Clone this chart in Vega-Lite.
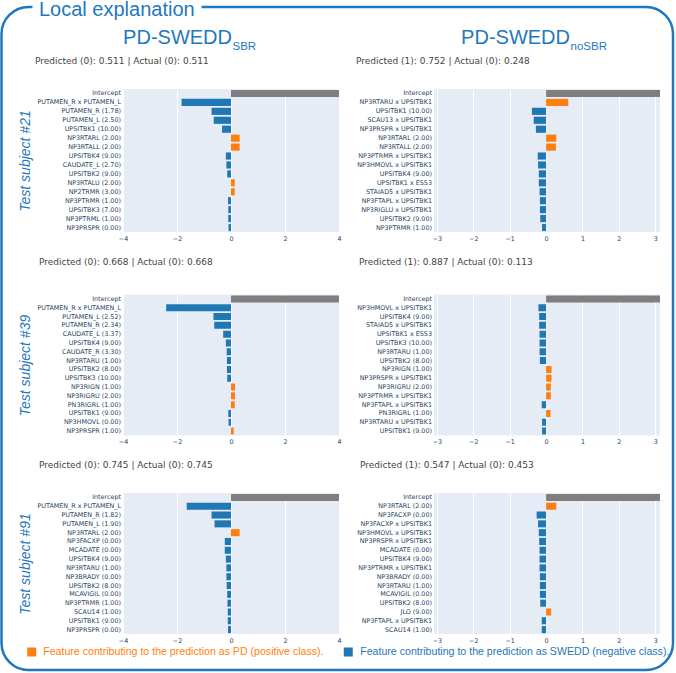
{
  "$schema": "https://vega.github.io/schema/vega-lite/v6.json",
  "padding": 0,
  "background": "white",
  "bounds": "flush",
  "spacing": 0,
  "config": {
    "view": {"stroke": null},
    "font": "DejaVu Sans",
    "axisX": {"labelFont": "DejaVu Sans", "labelFontSize": 6.4, "labelColor": "#2a3f5f", "ticks": false, "domain": false, "grid": true, "gridColor": "white", "gridWidth": 1, "gridOpacity": 1, "labelPadding": 3, "labelFlush": false},
    "axisY": {"labelFont": "DejaVu Sans", "labelFontSize": 6.4, "labelColor": "#2a3f5f", "ticks": false, "domain": false, "grid": false, "labelPadding": 2.5},
    "title": {"font": "DejaVu Sans", "fontSize": 9, "fontWeight": "normal", "color": "#444444", "anchor": "start", "frame": "group", "baseline": "alphabetic"}
  },
  "vconcat": [
    {
      "width": 549.5,
      "height": 82,
      "layer": [
        {"data": {"values": [{"frame": "Local explanation"}]}, "mark": {"type": "rect", "xOffset": -121.5, "x2Offset": 0.5, "yOffset": 0, "y2Offset": 581, "cornerRadius": 27, "filled": false, "color": "#1f78be", "strokeWidth": 2.5, "strokeDash": [4, 169, 3000], "clip": false}, "encoding": {"x": {"value": 0}, "x2": {"value": "width"}, "y": {"value": 0}, "y2": {"value": "height"}}},
        {"data": {"values": [{"t": "Local explanation"}]}, "mark": {"type": "text", "align": "left", "baseline": "alphabetic", "dx": -358.75, "dy": -32, "fontSize": 20, "font": "Liberation Sans", "color": "#1f78be"}, "encoding": {"text": {"field": "t"}}},
        {"data": {"values": [{"t": "PD-SWEDD"}]}, "mark": {"type": "text", "align": "right", "baseline": "alphabetic", "dx": -165.75, "dy": -4, "fontSize": 20, "font": "Liberation Sans", "color": "#1f78be"}, "encoding": {"text": {"field": "t"}}},
        {"data": {"values": [{"t": "SBR"}]}, "mark": {"type": "text", "align": "left", "baseline": "alphabetic", "dx": -165.25, "dy": 1.5, "fontSize": 11.5, "font": "Liberation Sans", "color": "#1f78be"}, "encoding": {"text": {"field": "t"}}},
        {"data": {"values": [{"t": "PD-SWEDD"}]}, "mark": {"type": "text", "align": "right", "baseline": "alphabetic", "dx": 172.25, "dy": -4, "fontSize": 20, "font": "Liberation Sans", "color": "#1f78be"}, "encoding": {"text": {"field": "t"}}},
        {"data": {"values": [{"t": "noSBR"}]}, "mark": {"type": "text", "align": "left", "baseline": "alphabetic", "dx": 172.75, "dy": 1.5, "fontSize": 11.5, "font": "Liberation Sans", "color": "#1f78be"}, "encoding": {"text": {"field": "t"}}},
        {"data": {"values": [{"sign": "PD", "label": "Feature contributing to the prediction as PD (positive class)."}]}, "mark": {"type": "square", "size": 81, "opacity": 1, "filled": true, "xOffset": -366, "yOffset": 604, "clip": false}, "encoding": {"color": {"field": "sign", "type": "nominal", "scale": {"domain": ["Intercept", "PD", "SWEDD"], "range": ["#7f7f7f", "#ff7f0e", "#1f77b4"]}, "legend": null}}},
        {"data": {"values": [{"sign": "PD", "label": "Feature contributing to the prediction as PD (positive class)."}]}, "mark": {"type": "text", "align": "left", "baseline": "middle", "dx": -354.5, "dy": 604, "fontSize": 10.6, "font": "Liberation Sans", "clip": false}, "encoding": {"text": {"field": "label"}, "color": {"field": "sign", "type": "nominal", "scale": {"domain": ["Intercept", "PD", "SWEDD"], "range": ["#7f7f7f", "#ff7f0e", "#1f77b4"]}, "legend": null}}},
        {"data": {"values": [{"sign": "SWEDD", "label": "Feature contributing to the prediction as SWEDD (negative class)."}]}, "mark": {"type": "square", "size": 81, "opacity": 1, "filled": true, "xOffset": -49.5, "yOffset": 604, "clip": false}, "encoding": {"color": {"field": "sign", "type": "nominal", "scale": {"domain": ["Intercept", "PD", "SWEDD"], "range": ["#7f7f7f", "#ff7f0e", "#1f77b4"]}, "legend": null}}},
        {"data": {"values": [{"sign": "SWEDD", "label": "Feature contributing to the prediction as SWEDD (negative class)."}]}, "mark": {"type": "text", "align": "left", "baseline": "middle", "dx": -37.5, "dy": 604, "fontSize": 10.6, "font": "Liberation Sans", "clip": false}, "encoding": {"text": {"field": "label"}, "color": {"field": "sign", "type": "nominal", "scale": {"domain": ["Intercept", "PD", "SWEDD"], "range": ["#7f7f7f", "#ff7f0e", "#1f77b4"]}, "legend": null}}}
      ]
    },
    {
      "columns": 2,
      "align": "each",
      "bounds": "full",
      "spacing": {"row": 15.5, "column": 14},
      "concat": [
        {
          "width": 216, "height": 143,
          "title": {"text": "Predicted (0): 0.511 | Actual (0): 0.511", "offset": 23.5, "dx": -88},
          "view": {"fill": "#e5ecf6", "stroke": null},
          "data": {"values": [
            {"feature": "Intercept", "value": 4.6, "sign": "Intercept"},
            {"feature": "PUTAMEN_R x PUTAMEN_L", "value": -1.83, "sign": "SWEDD"},
            {"feature": "PUTAMEN_R (1.78)", "value": -0.72, "sign": "SWEDD"},
            {"feature": "PUTAMEN_L (2.50)", "value": -0.64, "sign": "SWEDD"},
            {"feature": "UPSITBK1 (10.00)", "value": -0.33, "sign": "SWEDD"},
            {"feature": "NP3RTARL (2.00)", "value": 0.32, "sign": "PD"},
            {"feature": "NP3RTALL (2.00)", "value": 0.32, "sign": "PD"},
            {"feature": "UPSITBK4 (9.00)", "value": -0.19, "sign": "SWEDD"},
            {"feature": "CAUDATE_L (2.70)", "value": -0.17, "sign": "SWEDD"},
            {"feature": "UPSITBK2 (9.00)", "value": -0.14, "sign": "SWEDD"},
            {"feature": "NP3RTALU (2.00)", "value": 0.14, "sign": "PD"},
            {"feature": "NP2TRMR (3.00)", "value": 0.14, "sign": "PD"},
            {"feature": "NP3PTRMR (1.00)", "value": -0.11, "sign": "SWEDD"},
            {"feature": "UPSITBK3 (7.00)", "value": -0.10, "sign": "SWEDD"},
            {"feature": "NP3PTRML (1.00)", "value": -0.10, "sign": "SWEDD"},
            {"feature": "NP3PRSPR (0.00)", "value": -0.09, "sign": "SWEDD"}
          ]},
          "mark": {"type": "bar", "clip": true},
          "encoding": {
            "y": {"field": "feature", "type": "nominal", "sort": null, "scale": {"paddingInner": 0.2, "paddingOuter": 0.1}, "axis": {"title": "Test subject #21", "titleFont": "Liberation Sans", "titleFontStyle": "italic", "titleFontWeight": "normal", "titleFontSize": 14, "titleColor": "#1f78be", "titlePadding": 4.5}},
            "x": {"field": "value", "type": "quantitative", "scale": {"domain": [-4, 4], "nice": false}, "axis": {"title": null, "values": [-4, -2, 0, 2, 4]}},
            "color": {"field": "sign", "type": "nominal", "scale": {"domain": ["Intercept", "PD", "SWEDD"], "range": ["#7f7f7f", "#ff7f0e", "#1f77b4"]}, "legend": null}
          }
        },
        {
          "width": 226, "height": 143,
          "title": {"text": "Predicted (1): 0.752 | Actual (0): 0.248", "offset": 23.5, "dx": -78},
          "view": {"fill": "#e5ecf6", "stroke": null},
          "data": {"values": [
            {"feature": "Intercept", "value": 3.6, "sign": "Intercept"},
            {"feature": "NP3RTARU x UPSITBK1", "value": 0.61, "sign": "PD"},
            {"feature": "UPSITBK1 (10.00)", "value": -0.39, "sign": "SWEDD"},
            {"feature": "SCAU13 x UPSITBK1", "value": -0.34, "sign": "SWEDD"},
            {"feature": "NP3PRSPR x UPSITBK1", "value": -0.28, "sign": "SWEDD"},
            {"feature": "NP3RTARL (2.00)", "value": 0.28, "sign": "PD"},
            {"feature": "NP3RTALL (2.00)", "value": 0.27, "sign": "PD"},
            {"feature": "NP3PTRMR x UPSITBK1", "value": -0.23, "sign": "SWEDD"},
            {"feature": "NP3HMOVL x UPSITBK1", "value": -0.22, "sign": "SWEDD"},
            {"feature": "UPSITBK4 (9.00)", "value": -0.20, "sign": "SWEDD"},
            {"feature": "UPSITBK1 x ESS3", "value": -0.20, "sign": "SWEDD"},
            {"feature": "STAIAD5 x UPSITBK1", "value": -0.18, "sign": "SWEDD"},
            {"feature": "NP3FTAPL x UPSITBK1", "value": -0.17, "sign": "SWEDD"},
            {"feature": "NP3RIGLU x UPSITBK1", "value": -0.17, "sign": "SWEDD"},
            {"feature": "UPSITBK2 (9.00)", "value": -0.16, "sign": "SWEDD"},
            {"feature": "NP3PTRMR (1.00)", "value": -0.11, "sign": "SWEDD"}
          ]},
          "mark": {"type": "bar", "clip": true},
          "encoding": {
            "y": {"field": "feature", "type": "nominal", "sort": null, "scale": {"paddingInner": 0.2, "paddingOuter": 0.1}, "axis": {"title": null}},
            "x": {"field": "value", "type": "quantitative", "scale": {"domain": [-3.08, 3.13], "nice": false}, "axis": {"title": null, "values": [-3, -2, -1, 0, 1, 2, 3]}},
            "color": {"field": "sign", "type": "nominal", "scale": {"domain": ["Intercept", "PD", "SWEDD"], "range": ["#7f7f7f", "#ff7f0e", "#1f77b4"]}, "legend": null}
          }
        },
        {
          "width": 216, "height": 141,
          "title": {"text": "Predicted (0): 0.668 | Actual (0): 0.668", "offset": 27.8, "dx": -84},
          "view": {"fill": "#e5ecf6", "stroke": null},
          "data": {"values": [
            {"feature": "Intercept", "value": 4.6, "sign": "Intercept"},
            {"feature": "PUTAMEN_R x PUTAMEN_L", "value": -2.40, "sign": "SWEDD"},
            {"feature": "PUTAMEN_L (2.52)", "value": -0.65, "sign": "SWEDD"},
            {"feature": "PUTAMEN_R (2.34)", "value": -0.62, "sign": "SWEDD"},
            {"feature": "CAUDATE_L (3.37)", "value": -0.29, "sign": "SWEDD"},
            {"feature": "UPSITBK4 (9.00)", "value": -0.19, "sign": "SWEDD"},
            {"feature": "CAUDATE_R (3.30)", "value": -0.16, "sign": "SWEDD"},
            {"feature": "NP3RTARU (1.00)", "value": -0.15, "sign": "SWEDD"},
            {"feature": "UPSITBK2 (8.00)", "value": -0.15, "sign": "SWEDD"},
            {"feature": "UPSITBK3 (10.00)", "value": -0.14, "sign": "SWEDD"},
            {"feature": "NP3RIGN (1.00)", "value": 0.15, "sign": "PD"},
            {"feature": "NP3RIGRU (2.00)", "value": 0.15, "sign": "PD"},
            {"feature": "PN3RIGRL (1.00)", "value": 0.14, "sign": "PD"},
            {"feature": "UPSITBK1 (9.00)", "value": -0.10, "sign": "SWEDD"},
            {"feature": "NP3HMOVL (0.00)", "value": -0.09, "sign": "SWEDD"},
            {"feature": "NP3PRSPR (1.00)", "value": 0.10, "sign": "PD"}
          ]},
          "mark": {"type": "bar", "clip": true},
          "encoding": {
            "y": {"field": "feature", "type": "nominal", "sort": null, "scale": {"paddingInner": 0.2, "paddingOuter": 0.1}, "axis": {"title": "Test subject #39", "titleFont": "Liberation Sans", "titleFontStyle": "italic", "titleFontWeight": "normal", "titleFontSize": 14, "titleColor": "#1f78be", "titlePadding": 4.5}},
            "x": {"field": "value", "type": "quantitative", "scale": {"domain": [-4, 4], "nice": false}, "axis": {"title": null, "values": [-4, -2, 0, 2, 4]}},
            "color": {"field": "sign", "type": "nominal", "scale": {"domain": ["Intercept", "PD", "SWEDD"], "range": ["#7f7f7f", "#ff7f0e", "#1f77b4"]}, "legend": null}
          }
        },
        {
          "width": 226, "height": 141,
          "title": {"text": "Predicted (1): 0.887 | Actual (0): 0.113", "offset": 27.8, "dx": -75},
          "view": {"fill": "#e5ecf6", "stroke": null},
          "data": {"values": [
            {"feature": "Intercept", "value": 3.6, "sign": "Intercept"},
            {"feature": "NP3HMOVL x UPSITBK1", "value": -0.21, "sign": "SWEDD"},
            {"feature": "UPSITBK4 (9.00)", "value": -0.19, "sign": "SWEDD"},
            {"feature": "STAIAD5 x UPSITBK1", "value": -0.19, "sign": "SWEDD"},
            {"feature": "UPSITBK1 x ESS3", "value": -0.18, "sign": "SWEDD"},
            {"feature": "UPSITBK3 (10.00)", "value": -0.18, "sign": "SWEDD"},
            {"feature": "NP3RTARU (1.00)", "value": -0.18, "sign": "SWEDD"},
            {"feature": "UPSITBK2 (8.00)", "value": -0.17, "sign": "SWEDD"},
            {"feature": "NP3RIGN (1.00)", "value": 0.15, "sign": "PD"},
            {"feature": "NP3PRSPR x UPSITBK1", "value": 0.15, "sign": "PD"},
            {"feature": "NP3RIGRU (2.00)", "value": 0.13, "sign": "PD"},
            {"feature": "NP3PTRMR x UPSITBK1", "value": 0.13, "sign": "PD"},
            {"feature": "NP3FTAPL x UPSITBK1", "value": -0.12, "sign": "SWEDD"},
            {"feature": "PN3RIGRL (1.00)", "value": 0.12, "sign": "PD"},
            {"feature": "NP3RTARU x UPSITBK1", "value": -0.11, "sign": "SWEDD"},
            {"feature": "UPSITBK1 (9.00)", "value": -0.11, "sign": "SWEDD"}
          ]},
          "mark": {"type": "bar", "clip": true},
          "encoding": {
            "y": {"field": "feature", "type": "nominal", "sort": null, "scale": {"paddingInner": 0.2, "paddingOuter": 0.1}, "axis": {"title": null}},
            "x": {"field": "value", "type": "quantitative", "scale": {"domain": [-3.08, 3.13], "nice": false}, "axis": {"title": null, "values": [-3, -2, -1, 0, 1, 2, 3]}},
            "color": {"field": "sign", "type": "nominal", "scale": {"domain": ["Intercept", "PD", "SWEDD"], "range": ["#7f7f7f", "#ff7f0e", "#1f77b4"]}, "legend": null}
          }
        },
        {
          "width": 216, "height": 141,
          "title": {"text": "Predicted (0): 0.745 | Actual (0): 0.745", "offset": 22.8, "dx": -84},
          "view": {"fill": "#e5ecf6", "stroke": null},
          "data": {"values": [
            {"feature": "Intercept", "value": 4.6, "sign": "Intercept"},
            {"feature": "PUTAMEN_R x PUTAMEN_L", "value": -1.64, "sign": "SWEDD"},
            {"feature": "PUTAMEN_R (1.82)", "value": -0.72, "sign": "SWEDD"},
            {"feature": "PUTAMEN_L (1.90)", "value": -0.61, "sign": "SWEDD"},
            {"feature": "NP3RTARL (2.00)", "value": 0.32, "sign": "PD"},
            {"feature": "NP3FACXP (0.00)", "value": -0.23, "sign": "SWEDD"},
            {"feature": "MCADATE (0.00)", "value": -0.23, "sign": "SWEDD"},
            {"feature": "UPSITBK4 (9.00)", "value": -0.19, "sign": "SWEDD"},
            {"feature": "NP3RTARU (1.00)", "value": -0.17, "sign": "SWEDD"},
            {"feature": "NP3BRADY (0.00)", "value": -0.17, "sign": "SWEDD"},
            {"feature": "UPSITBK2 (8.00)", "value": -0.16, "sign": "SWEDD"},
            {"feature": "MCAVIGIL (0.00)", "value": -0.14, "sign": "SWEDD"},
            {"feature": "NP3PTRMR (1.00)", "value": -0.13, "sign": "SWEDD"},
            {"feature": "SCAU14 (1.00)", "value": -0.12, "sign": "SWEDD"},
            {"feature": "UPSITBK1 (9.00)", "value": -0.12, "sign": "SWEDD"},
            {"feature": "NP3PRSPR (0.00)", "value": -0.11, "sign": "SWEDD"}
          ]},
          "mark": {"type": "bar", "clip": true},
          "encoding": {
            "y": {"field": "feature", "type": "nominal", "sort": null, "scale": {"paddingInner": 0.2, "paddingOuter": 0.1}, "axis": {"title": "Test subject #91", "titleFont": "Liberation Sans", "titleFontStyle": "italic", "titleFontWeight": "normal", "titleFontSize": 14, "titleColor": "#1f78be", "titlePadding": 4.5}},
            "x": {"field": "value", "type": "quantitative", "scale": {"domain": [-4, 4], "nice": false}, "axis": {"title": null, "values": [-4, -2, 0, 2, 4]}},
            "color": {"field": "sign", "type": "nominal", "scale": {"domain": ["Intercept", "PD", "SWEDD"], "range": ["#7f7f7f", "#ff7f0e", "#1f77b4"]}, "legend": null}
          }
        },
        {
          "width": 226, "height": 141,
          "title": {"text": "Predicted (1): 0.547 | Actual (0): 0.453", "offset": 22.8, "dx": -74},
          "view": {"fill": "#e5ecf6", "stroke": null},
          "data": {"values": [
            {"feature": "Intercept", "value": 3.6, "sign": "Intercept"},
            {"feature": "NP3RTARL (2.00)", "value": 0.28, "sign": "PD"},
            {"feature": "NP3FACXP (0.00)", "value": -0.26, "sign": "SWEDD"},
            {"feature": "NP3FACXP x UPSITBK1", "value": -0.22, "sign": "SWEDD"},
            {"feature": "NP3HMOVL x UPSITBK1", "value": -0.20, "sign": "SWEDD"},
            {"feature": "NP3PRSPR x UPSITBK1", "value": -0.19, "sign": "SWEDD"},
            {"feature": "MCADATE (0.00)", "value": -0.18, "sign": "SWEDD"},
            {"feature": "UPSITBK4 (9.00)", "value": -0.18, "sign": "SWEDD"},
            {"feature": "NP3PTRMR x UPSITBK1", "value": -0.18, "sign": "SWEDD"},
            {"feature": "NP3BRADY (0.00)", "value": -0.17, "sign": "SWEDD"},
            {"feature": "NP3RTARU (1.00)", "value": -0.17, "sign": "SWEDD"},
            {"feature": "MCAVIGIL (0.00)", "value": -0.17, "sign": "SWEDD"},
            {"feature": "UPSITBK2 (8.00)", "value": -0.16, "sign": "SWEDD"},
            {"feature": "JLO (9.00)", "value": 0.14, "sign": "PD"},
            {"feature": "NP3FTAPL x UPSITBK1", "value": -0.12, "sign": "SWEDD"},
            {"feature": "SCAU14 (1.00)", "value": -0.12, "sign": "SWEDD"}
          ]},
          "mark": {"type": "bar", "clip": true},
          "encoding": {
            "y": {"field": "feature", "type": "nominal", "sort": null, "scale": {"paddingInner": 0.2, "paddingOuter": 0.1}, "axis": {"title": null}},
            "x": {"field": "value", "type": "quantitative", "scale": {"domain": [-3.08, 3.13], "nice": false}, "axis": {"title": null, "values": [-3, -2, -1, 0, 1, 2, 3]}},
            "color": {"field": "sign", "type": "nominal", "scale": {"domain": ["Intercept", "PD", "SWEDD"], "range": ["#7f7f7f", "#ff7f0e", "#1f77b4"]}, "legend": null}
          }
        }
      ]
    }
  ]
}
